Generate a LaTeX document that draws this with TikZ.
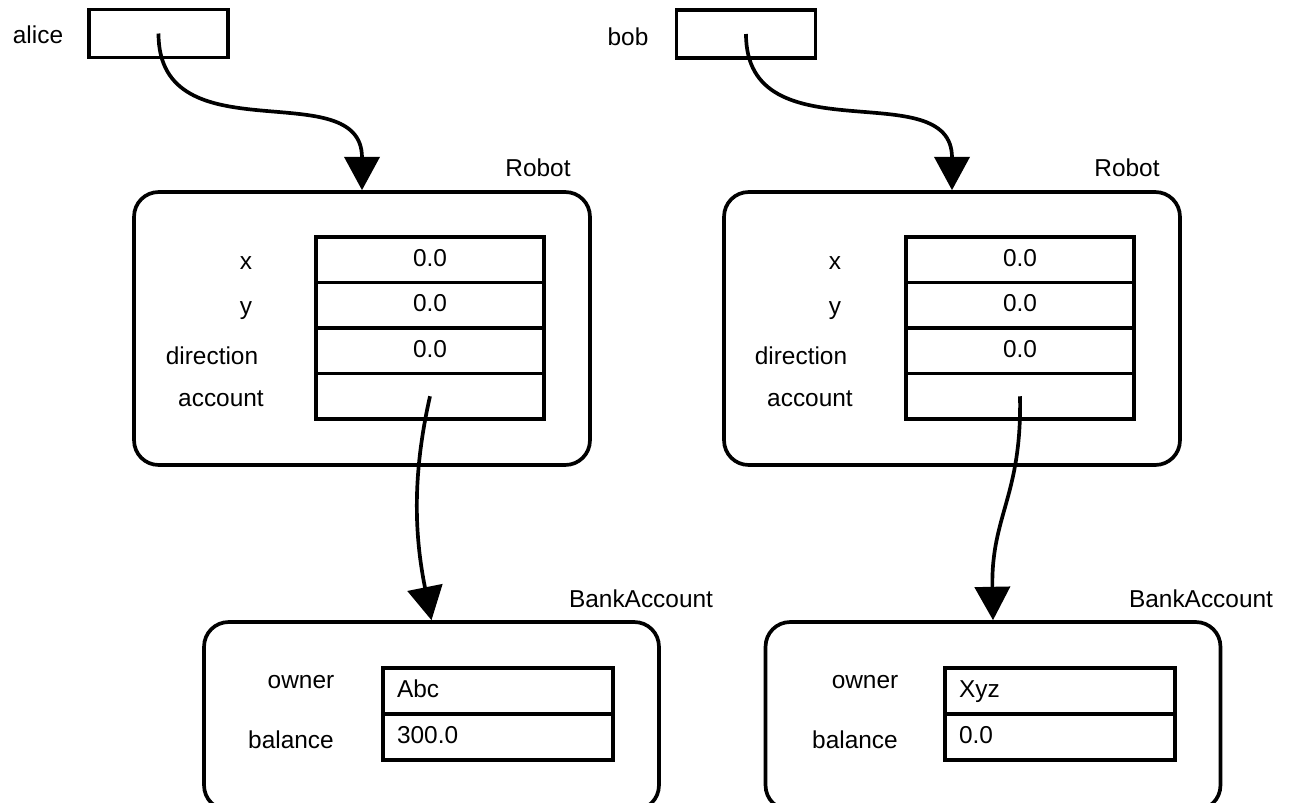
\documentclass[tikz,border=0pt]{standalone}
\usepackage{fontspec}
\setmainfont{Liberation Sans}
\usepackage{tikz}
\usetikzlibrary{arrows.meta, calc}
\newcommand{\labfont}{\fontsize{13.9}{16}\selectfont}
\tikzstyle{varbox} = [rectangle, draw=black, line width=2.1pt, minimum width=2.78cm, minimum height=0.96cm]
\tikzstyle{object} = [rectangle, rounded corners=14pt, draw=black, line width=2.1pt]
\tikzstyle{field} = [rectangle, draw=black, line width=2.2pt, minimum width=4.56cm, minimum height=0.91cm, text height=0.72em, text depth=0pt]
\tikzstyle{bankfield} = [rectangle, draw=black, line width=2.2pt, inner xsep=0.28cm, text width=4.04cm, align=left, minimum height=0.92cm, text height=0.72em, text depth=0pt]
\tikzstyle{lbl} = [anchor=base]
\tikzstyle{pointer} = [line width=2.1pt, -{Triangle[length=19pt,width=20pt]}]

\begin{document}
\begin{tikzpicture}[x=0.02cm, y=-0.02cm, font=\labfont]
    \useasboundingbox (0,0) rectangle (1291,802);

    % alice side
    \node (alice) [lbl] at (38,43) {alice};
    \node (alicebox) [varbox] at (158.5,33.5) {};
    \node (robotAname) [lbl] at (538,176) {Robot};
    \node (robotA) [object, minimum width=9.12cm, minimum height=5.46cm] at (362,328.5) {};
    \node (xA) [field] at (430,259.75) {0.0};
    \node (yA) [field] at (430,305.25) {0.0};
    \node (dirA) [field] at (430,350.75) {0.0};
    \node (accA) [field] at (430,396.25) {};
    \node (xAname) [lbl] at (246,269) {x};
    \node (yAname) [lbl] at (246,314) {y};
    \node (dirAname) [lbl] at (212,364) {direction};
    \node (accAname) [lbl] at (221,406) {account};
    \node (bankAname) [lbl] at (641,607) {BankAccount};
    \node (bankA) [object, minimum width=9.1cm, minimum height=3.76cm] at (431.5,716) {};
    \node (ownerA) [bankfield] at (498,691) {Abc};
    \node (balA) [bankfield] at (498,737) {300.0};
    \node (ownerAname) [lbl] at (301,688) {owner};
    \node (balAname) [lbl] at (291,748) {balance};

    % bob side
    \node (bob) [lbl] at (628,45) {bob};
    \node (bobbox) [varbox] at (746,34) {};
    \node (robotBname) [lbl] at (1127,176) {Robot};
    \node (robotB) [object, minimum width=9.12cm, minimum height=5.46cm] at (952,328.5) {};
    \node (xB) [field] at (1020,259.75) {0.0};
    \node (yB) [field] at (1020,305.25) {0.0};
    \node (dirB) [field] at (1020,350.75) {0.0};
    \node (accB) [field] at (1020,396.25) {};
    \node (xBname) [lbl] at (835,269) {x};
    \node (yBname) [lbl] at (835,314) {y};
    \node (dirBname) [lbl] at (801,364) {direction};
    \node (accBname) [lbl] at (810,406) {account};
    \node (bankBname) [lbl] at (1201,607) {BankAccount};
    \node (bankB) [object, minimum width=9.1cm, minimum height=3.76cm] at (993,716) {};
    \node (ownerB) [bankfield] at (1060,691) {Xyz};
    \node (balB) [bankfield] at (1060,737) {0.0};
    \node (ownerBname) [lbl] at (865,688) {owner};
    \node (balBname) [lbl] at (855,748) {balance};

    % references
    \draw [pointer] (alicebox.center) .. controls +(0,125) and +(0,-118) .. (robotA.north);
    \draw [pointer] (accA.center) .. controls +(-19,84) and +(-16,-80) .. (bankA.north);
    \draw [pointer] (bobbox.center) .. controls +(0,125) and +(0,-118) .. (robotB.north);
    \draw [pointer] (accB.center) .. controls +(2,100) and +(-2,-105) .. (bankB.north);
\end{tikzpicture}
\end{document}
